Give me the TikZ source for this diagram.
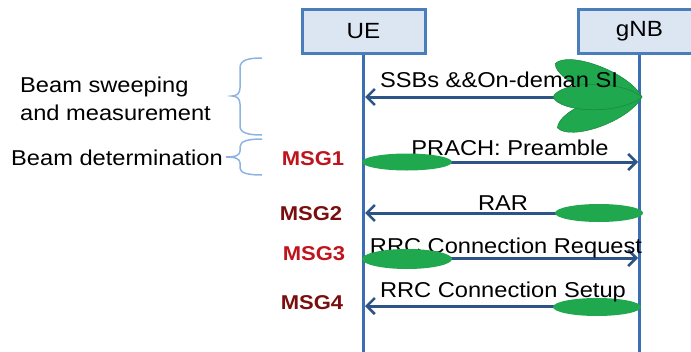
\documentclass[tikz,border=0pt]{standalone}
\usepackage{fontspec}
\setmainfont{Liberation Sans}[FakeStretch=1.1]
\usetikzlibrary{arrows.meta}
\definecolor{boxfill}{HTML}{DCE6F2}
\definecolor{boxline}{HTML}{4A7EBB}
\definecolor{lifeline}{HTML}{3C6EB4}
\definecolor{arrowcol}{HTML}{2C5487}
\definecolor{beamgreen}{HTML}{1FA84D}
\definecolor{msgred}{HTML}{C0141C}
\definecolor{msgdark}{HTML}{7A0E0E}
\definecolor{bracecol}{HTML}{8DB3E2}
\tikzset{
  actor/.style={draw=boxline, line width=3pt, fill=boxfill, minimum width=123pt, minimum height=44pt, inner sep=0pt, font=\fontsize{22}{26}\selectfont},
  life/.style={draw=lifeline, line width=3pt},
  msgarrow/.style={draw=arrowcol, line width=3pt, -{Straight Barb[length=8pt,width=16pt,line width=2.6pt]}},
  msgtext/.style={anchor=base, inner sep=0pt, font=\fontsize{21.5}{25}\selectfont},
  sidetext/.style={anchor=base west, inner sep=0pt, font=\fontsize{21.5}{25}\selectfont},
  msglabA/.style={anchor=base, inner sep=0pt, text=msgred, font=\fontsize{20}{24}\selectfont\bfseries},
  msglabB/.style={anchor=base, inner sep=0pt, text=msgdark, font=\fontsize{20}{24}\selectfont\bfseries},
  beamell/.style={fill=beamgreen, draw=none},
  leaf/.style={fill=beamgreen, draw=beamgreen!80!black, line width=0.5pt},
  bracestyle/.style={draw=bracecol, line width=1.5pt}
}
\begin{document}
\begin{tikzpicture}[x=1pt,y=-1pt]
\useasboundingbox (0,0) rectangle (691,351);
% lifelines
\coordinate (uebot) at (363.5,352);
\coordinate (gnbbot) at (639.5,352);
\node[actor] (ue) at (363.5,31) {UE};
\node[actor] (gnb) at (639.5,31) {gNB};
\draw[life] (ue.south) -- (uebot);
\draw[life] (gnb.south) -- (gnbbot);
% message row coordinates
\coordinate (u0) at (365,97);   \coordinate (g0) at (638,97);
\coordinate (u1) at (363,162);  \coordinate (g1) at (638,162);
\coordinate (u2) at (365,213);  \coordinate (g2) at (638,213);
\coordinate (u3) at (363,258);  \coordinate (g3) at (638,258);
\coordinate (u4) at (365,306);  \coordinate (g4) at (638,306);
% arrows
\draw[msgarrow] (g0) -- (u0);
\draw[msgarrow] (u1) -- (g1);
\draw[msgarrow] (g2) -- (u2);
\draw[msgarrow] (u3) -- (g3);
\draw[msgarrow] (g4) -- (u4);
% beam leaves at gNB
\begin{scope}[shift={(642,97)}, rotate=-21]
\path[leaf] (0,0) .. controls (-22,-19) and (-86,-17) .. (-93,0) .. controls (-86,17) and (-22,19) .. (0,0);
\end{scope}
\begin{scope}[shift={(642,97)}, rotate=20]
\path[leaf] (0,0) .. controls (-22,-19) and (-83,-17) .. (-90,0) .. controls (-83,17) and (-22,19) .. (0,0);
\end{scope}
\begin{scope}[shift={(642,97)}]
\path[leaf] (0,0) .. controls (-22,-18) and (-82,-16) .. (-89,0) .. controls (-82,16) and (-22,18) .. (0,0);
\end{scope}
% texts
\node[msgtext] (t0) at (499,87) {SSBs \&\&On-deman SI};
\node[msgtext] (t1) at (510,155) {PRACH: Preamble};
\node[msgtext] (t2) at (503,210) {RAR};
\node[msgtext] (t3) at (506,253) {RRC Connection Request};
% ellipses
\fill[beamell] (407,162) ellipse [x radius=45pt, y radius=8.5pt];
\fill[beamell] (599,213) ellipse [x radius=44pt, y radius=9pt];
\fill[beamell] (407,259) ellipse [x radius=45pt, y radius=10pt];
\fill[beamell] (597,307) ellipse [x radius=44pt, y radius=9pt];
\node[msgtext] (t4) at (503,297) {RRC Connection Setup};
% MSG labels
\node[msglabA] (m1) at (313,165) {MSG1};
\node[msglabB] (m2) at (311,220) {MSG2};
\node[msglabA] (m3) at (314,260) {MSG3};
\node[msglabB] (m4) at (312,309) {MSG4};
% side texts
\node[sidetext] (s1) at (20,92.5) {Beam sweeping};
\node[sidetext] (s2) at (20,120) {and measurement};
\node[sidetext] (s3) at (11,165) {Beam determination};
% braces
\draw[bracestyle] (262,58) .. controls (248,58) and (240,60) .. (240,68) -- (240,88)
  .. controls (240,94) and (236,96) .. (232,96) .. controls (236,96) and (240,98) .. (240,104)
  -- (240,126) .. controls (240,133) and (248,135) .. (262,135);
\draw[bracestyle] (262,139) .. controls (248,139) and (240,141) .. (240,147) -- (240,151)
  .. controls (240,155) and (236,157) .. (226,157) .. controls (236,157) and (240,159) .. (240,163)
  -- (240,168) .. controls (240,173) and (248,175) .. (262,175);
\end{tikzpicture}
\end{document}
